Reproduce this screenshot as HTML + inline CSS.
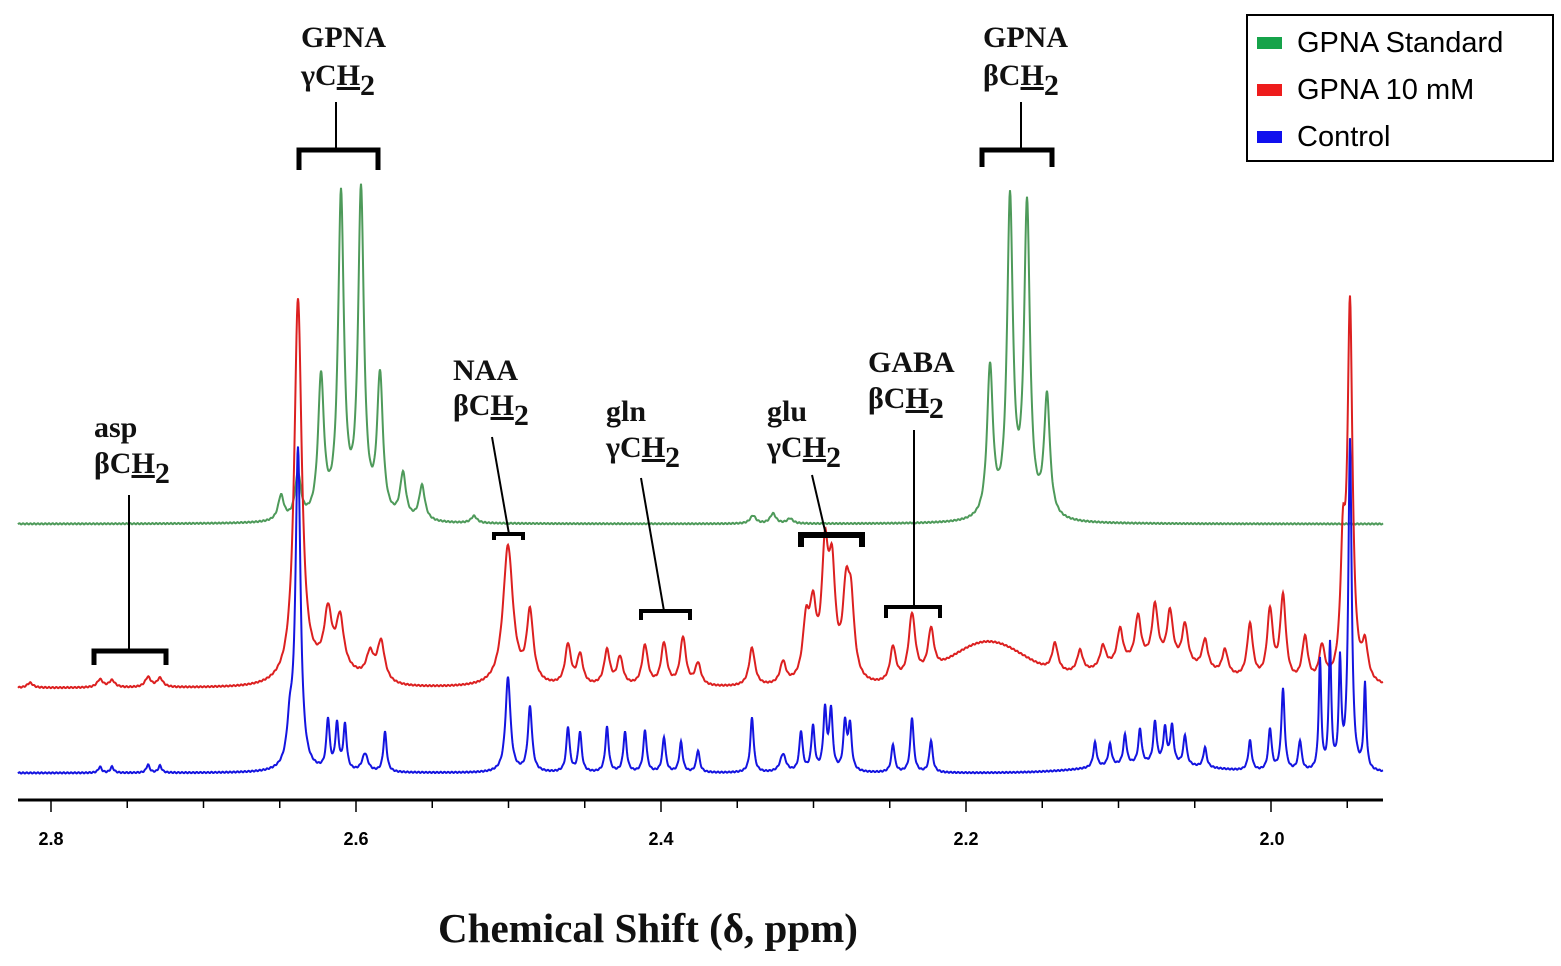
<!DOCTYPE html>
<html><head><meta charset="utf-8"><style>
body{margin:0;background:#fff;width:1561px;height:966px;overflow:hidden}
svg{display:block}
.lab{font-family:"Liberation Serif",serif;font-weight:bold;fill:#111}
</style></head><body>
<svg id="s" width="1561" height="966" xmlns="http://www.w3.org/2000/svg">
<g id="spec"></g>
<line x1="18" y1="800" x2="1383" y2="800" stroke="#000" stroke-width="3"/>
<g id="ticks" stroke="#000" stroke-width="1.5"></g>
<g font-family="Liberation Sans,sans-serif" font-weight="bold" font-size="18" text-anchor="middle" fill="#000">
<text x="51" y="845">2.8</text><text x="356" y="845">2.6</text><text x="661" y="845">2.4</text><text x="966" y="845">2.2</text><text x="1272" y="845">2.0</text>
</g>
<text class="lab" x="648" y="942" font-size="41" text-anchor="middle">Chemical Shift (δ, ppm)</text>
<rect x="1247" y="15" width="306" height="146" fill="#fff" stroke="#000" stroke-width="2"/>
<rect x="1257" y="37" width="25" height="12" fill="#16a34a"/>
<rect x="1257" y="84" width="25" height="12" fill="#ee1c1c"/>
<rect x="1257" y="131" width="25" height="12" fill="#1010ee"/>
<g font-family="Liberation Sans,sans-serif" font-size="29" fill="#000">
<text x="1297" y="52">GPNA Standard</text><text x="1297" y="99">GPNA 10 mM</text><text x="1297" y="146">Control</text>
</g>
<g stroke="#000" fill="none">
<path d="M299,170 V150 H378 V170" stroke-width="5"/><line x1="336" y1="102" x2="336" y2="150" stroke-width="2"/>
<path d="M982,167 V150 H1052 V167" stroke-width="5"/><line x1="1021" y1="102" x2="1021" y2="150" stroke-width="2"/>
<path d="M94,665 V651 H166 V665" stroke-width="5"/><line x1="129" y1="495" x2="129" y2="651" stroke-width="2"/>
<path d="M494,540 V534 H523 V540" stroke-width="4"/><line x1="492" y1="437" x2="509" y2="534" stroke-width="2"/>
<path d="M641,620 V611 H690 V620" stroke-width="4"/><line x1="641" y1="478" x2="664" y2="611" stroke-width="2"/>
<path d="M801,547 V535 H862 V547" stroke-width="6"/><line x1="812" y1="475" x2="826" y2="535" stroke-width="2"/>
<path d="M886,618 V607 H940 V618" stroke-width="4"/><line x1="914" y1="430" x2="914" y2="607" stroke-width="2"/>
</g>
<g class="lab" font-size="30">
<text x="301" y="47">GPNA</text><text x="301" y="85">γC<tspan text-decoration="underline">H</tspan><tspan dy="10">2</tspan></text>
<text x="983" y="47">GPNA</text><text x="983" y="85">βC<tspan text-decoration="underline">H</tspan><tspan dy="10">2</tspan></text>
<text x="94" y="437">asp</text><text x="94" y="473">βC<tspan text-decoration="underline">H</tspan><tspan dy="10">2</tspan></text>
<text x="453" y="380">NAA</text><text x="453" y="415">βC<tspan text-decoration="underline">H</tspan><tspan dy="10">2</tspan></text>
<text x="606" y="421">gln</text><text x="606" y="457">γC<tspan text-decoration="underline">H</tspan><tspan dy="10">2</tspan></text>
<text x="767" y="421">glu</text><text x="767" y="457">γC<tspan text-decoration="underline">H</tspan><tspan dy="10">2</tspan></text>
<text x="868" y="372">GABA</text><text x="868" y="408">βC<tspan text-decoration="underline">H</tspan><tspan dy="10">2</tspan></text>
</g>
</svg>
<script>
var NS="http://www.w3.org/2000/svg";
var t=document.getElementById('ticks');
for(var i=0;i<19;i++){var x=51+i*76.25;if(x>1383)break;var l=document.createElementNS(NS,'line');l.setAttribute('x1',x);l.setAttribute('x2',x);l.setAttribute('y1',800);l.setAttribute('y2',i%4==0?812:808);t.appendChild(l);}
function spec(base,peaks,col,hump){
 var d="";
 for(var x=18;x<=1383;x+=0.5){
  var y=0;
  for(var p of peaks){var w=p[2]||3.5;var u=(x-p[0])/w;y+=p[1]/(1+u*u);}
  if(hump)for(var h of hump){var u=(x-h[0])/h[2];y+=h[1]*Math.exp(-u*u);}
  y+=Math.sin(x*1.7)*0.6;
  d+=(d?"L":"M")+x.toFixed(1)+","+(base-y).toFixed(1);
 }
 var p=document.createElementNS(NS,'path');p.setAttribute('d',d);p.setAttribute('fill','none');p.setAttribute('stroke',col);p.setAttribute('stroke-width','2');
 document.getElementById('spec').appendChild(p);
}
spec(524,[[281,25],[298,45],[321,140],[341,320],[361,325],[380,140],[403,45],[422,35],[474,7],[753,8],[773,10],[790,5],[990,150],[1010,315],[1027,310],[1047,120]],'#4e9a5a');
spec(688,[[298,380,4.5],[328,55,4.5],[340,50,4.5],[370,25,4.5],[381,40,4.5],[508,140,6],[530,70,4],[568,40],[580,30],[607,35],[620,28],[645,40],[664,42],[683,48],[698,22],[752,38],[783,22],[806,55,4],[813,65,4],[825,120,4],[832,100,4],[846,78,4],[851,70,4],[893,35],[912,65,4],[931,42],[1055,28],[1080,22],[1103,22],[1120,35],[1138,45],[1155,55],[1170,50],[1185,40],[1205,30],[1225,25],[1250,55],[1270,70],[1283,85],[1305,45],[1322,35],[1343,120,3],[1350,370,3],[1365,35],[100,8],[112,7],[148,10],[160,9],[30,5]],'#dc2020',[[988,45,55],[1150,25,80],[330,15,40]]);
spec(773,[[298,320,3],[290,40],[328,50,2],[337,45,2],[345,45,2],[365,18],[385,40,2],[508,95,3],[530,65,2.5],[568,45,2],[580,40,2],[607,45,2],[625,40,2],[645,42,2],[664,35,2],[681,30,2],[698,22,2],[752,55,2],[783,18],[801,40,2],[813,45,2],[825,60,2],[831,60,2],[845,48,2],[850,45,2],[893,28,2],[912,55,2],[931,32,2],[1095,25,2],[1110,22,2],[1125,30,2],[1140,35,2],[1155,42,2],[1165,35,2],[1172,38,2],[1185,30,2],[1205,20,2],[1250,30,2],[1270,42,2],[1283,82,2],[1300,30,2],[1320,110,1.5],[1330,125,1.5],[1340,105,1.5],[1350,330,2],[1365,85,1.5],[100,6,2],[112,6,2],[148,8,2],[160,7,2]],'#1414e0',[[1150,8,80]]);
</script>
</body></html>
